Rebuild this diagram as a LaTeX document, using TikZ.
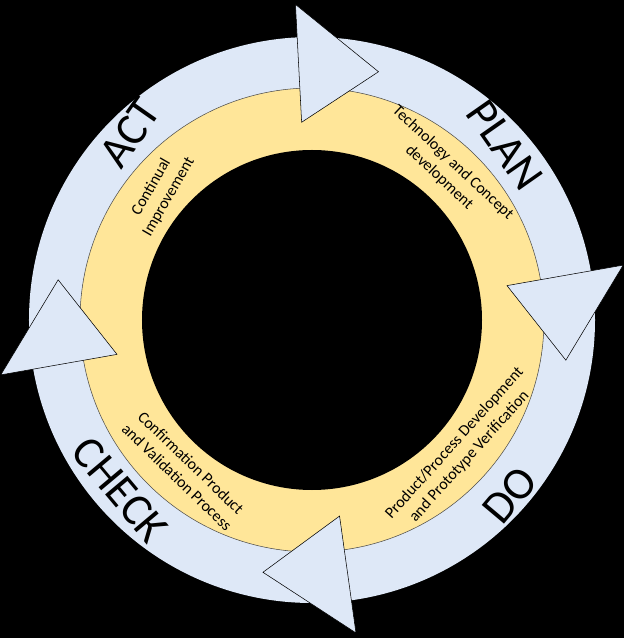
\documentclass[tikz,border=0pt]{standalone}
\usepackage{fontspec}
\setmainfont{Carlito}
\definecolor{ringblue}{HTML}{DEE8F7}
\definecolor{ringyellow}{HTML}{FFE699}
\begin{document}
\begin{tikzpicture}%
	[x=0.75pt,y=0.75pt,
	outerring/.style={fill=ringblue},
	innerring/.style={fill=ringyellow,draw=black!70,thin},
	hole/.style={fill=black},
	headshape/.style={fill=ringblue,draw=black,thin,line join=miter},
	phase/.style={font=\fontsize{34}{34}\selectfont,inner sep=0pt},
	stage/.style={font=\fontsize{12}{15}\selectfont,align=center,inner sep=0pt}]
%
\useasboundingbox[fill=black] (-312,-318) rectangle (312,320);
%% rings
\fill[outerring] (0,0) circle (283);
\draw[innerring] (0,0) circle (232);
\fill[hole] (0,0) circle (170);
%% arrow heads
\foreach \b/\t in {93/75, 10/-9, -82/-101, 190/171}
	\draw[headshape] (\b:198) -- (\b:316) -- (\t:257) -- cycle;
%%
%% phase names
\node[phase, rotate=55] (act) at (-182,187) {ACT};
\node[phase, rotate=-55] (plan) at (193,175) {PLAN};
\node[phase, rotate=50] (do) at (198,-175) {DO};
\node[phase, rotate=-50] (check) at (-192,-170) {CHECK};
%% stage texts
\node[stage, rotate=60] (improve) at (-152,128) {Continual\\Improvement};
\node[stage, rotate=-43] (concept) at (134,150) {Technology and Concept\\development};
\node[stage, rotate=48] (verify) at (150,-130) {Product/Process Development\\and Prototype Verification};
\node[stage, rotate=-44] (validate) at (-128,-150) {Confirmation Product\\and Validation Process};
\end{tikzpicture}
\end{document}
